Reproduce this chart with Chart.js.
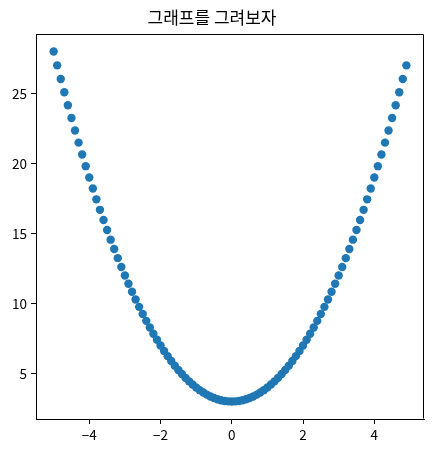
<!DOCTYPE html>
<html>
<head>
<meta charset="utf-8">
<script src="https://cdn.jsdelivr.net/npm/chart.js@4"></script>
<style>
  html, body { margin: 0; padding: 0; background: #fff; }
  canvas { display: block; }
</style>
</head>
<body>
<canvas id="chart" width="433" height="453"></canvas>
<script>
// Data
const xValues = [
  -5.0, -4.9, -4.8, -4.7, -4.6, -4.5, -4.4, -4.3, -4.2, -4.1,
  -4.0, -3.9, -3.8, -3.7, -3.6, -3.5, -3.4, -3.3, -3.2, -3.1,
  -3.0, -2.9, -2.8, -2.7, -2.6, -2.5, -2.4, -2.3, -2.2, -2.1,
  -2.0, -1.9, -1.8, -1.7, -1.6, -1.5, -1.4, -1.3, -1.2, -1.1,
  -1.0, -0.9, -0.8, -0.7, -0.6, -0.5, -0.4, -0.3, -0.2, -0.1,
  0.0, 0.1, 0.2, 0.3, 0.4, 0.5, 0.6, 0.7, 0.8, 0.9,
  1.0, 1.1, 1.2, 1.3, 1.4, 1.5, 1.6, 1.7, 1.8, 1.9,
  2.0, 2.1, 2.2, 2.3, 2.4, 2.5, 2.6, 2.7, 2.8, 2.9,
  3.0, 3.1, 3.2, 3.3, 3.4, 3.5, 3.6, 3.7, 3.8, 3.9,
  4.0, 4.1, 4.2, 4.3, 4.4, 4.5, 4.6, 4.7, 4.8, 4.9
];
const yValues = [
  28.00, 27.01, 26.04, 25.09, 24.16, 23.25, 22.36, 21.49, 20.64, 19.81,
  19.00, 18.21, 17.44, 16.69, 15.96, 15.25, 14.56, 13.89, 13.24, 12.61,
  12.00, 11.41, 10.84, 10.29, 9.76, 9.25, 8.76, 8.29, 7.84, 7.41,
  7.00, 6.61, 6.24, 5.89, 5.56, 5.25, 4.96, 4.69, 4.44, 4.21,
  4.00, 3.81, 3.64, 3.49, 3.36, 3.25, 3.16, 3.09, 3.04, 3.01,
  3.00, 3.01, 3.04, 3.09, 3.16, 3.25, 3.36, 3.49, 3.64, 3.81,
  4.00, 4.21, 4.44, 4.69, 4.96, 5.25, 5.56, 5.89, 6.24, 6.61,
  7.00, 7.41, 7.84, 8.29, 8.76, 9.25, 9.76, 10.29, 10.84, 11.41,
  12.00, 12.61, 13.24, 13.89, 14.56, 15.25, 15.96, 16.69, 17.44, 18.21,
  19.00, 19.81, 20.64, 21.49, 22.36, 23.25, 24.16, 25.09, 26.04, 27.01
];
const xTicks = [-4, -2, 0, 2, 4];
const yTicks = [5, 10, 15, 20, 25];
const chartTitle = '그래프를 그려보자';

const points = xValues.map((x, i) => ({ x: x, y: yValues[i] }));

const tickFont = { family: '"Noto Sans CJK KR", "DejaVu Sans", sans-serif', size: 13.5 };

// matplotlib-style box: top and right spines
const frameBox = {
  id: 'frameBox',
  afterDraw(chart) {
    const a = chart.chartArea;
    const ctx = chart.ctx;
    const l = Math.round(a.left) + 0.5, r = Math.round(a.right) - 0.5;
    const t = Math.round(a.top) + 0.5, b = Math.round(a.bottom) - 0.5;
    ctx.save();
    ctx.strokeStyle = '#000';
    ctx.lineWidth = 1;
    ctx.beginPath();
    ctx.moveTo(l, t);
    ctx.lineTo(r, t);
    ctx.lineTo(r, b);
    ctx.stroke();
    ctx.restore();
  }
};

function minusSign(v) {
  return String(v).replace('-', '\u2212');
}

new Chart(document.getElementById('chart').getContext('2d'), {
  type: 'scatter',
  data: {
    datasets: [{
      data: points,
      backgroundColor: '#1f77b4',
      borderWidth: 0,
      pointRadius: 4.2,
      pointHoverRadius: 4.2
    }]
  },
  options: {
    responsive: false,
    animation: false,
    layout: { padding: { left: 0, right: 9, top: 0, bottom: 0 } },
    plugins: {
      legend: { display: false },
      tooltip: { enabled: false },
      title: {
        display: true,
        text: chartTitle,
        color: '#000',
        font: { family: '"Noto Sans CJK KR", sans-serif', size: 17, weight: 'normal', lineHeight: 1.2 },
        padding: { top: 7, bottom: 6.6 }
      }
    },
    scales: {
      x: {
        type: 'linear',
        min: -5.495,
        max: 5.395,
        afterBuildTicks: s => { s.ticks = xTicks.map(v => ({ value: v })); },
        afterFit: s => { s.height = 34; },
        grid: { drawOnChartArea: false, color: '#000', tickLength: 5 },
        border: { color: '#000', width: 1 },
        ticks: { color: '#000', font: tickFont, padding: 3, maxRotation: 0, callback: minusSign }
      },
      y: {
        type: 'linear',
        min: 1.75,
        max: 29.25,
        afterBuildTicks: s => { s.ticks = yTicks.map(v => ({ value: v })); },
        afterFit: s => { s.width = 36; },
        grid: { drawOnChartArea: false, color: '#000', tickLength: 5 },
        border: { color: '#000', width: 1 },
        ticks: { color: '#000', font: tickFont, padding: 4, callback: minusSign }
      }
    }
  },
  plugins: [frameBox]
});
</script>
</body>
</html>
